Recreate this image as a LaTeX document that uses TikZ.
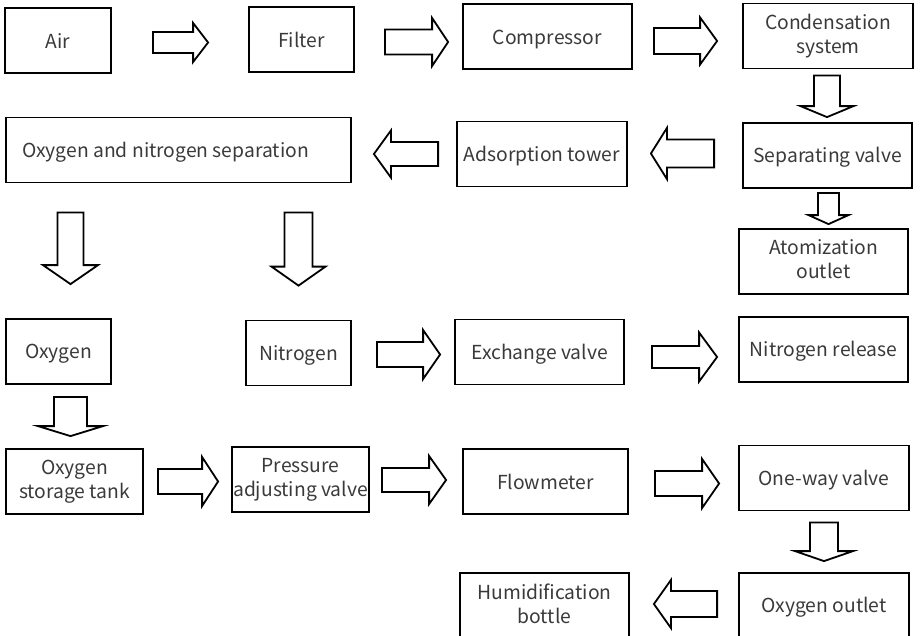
\documentclass[tikz,border=0pt]{standalone}
\usepackage{fontspec}
\setmainfont{Noto Sans CJK SC}
\usepackage{xcolor}
\usetikzlibrary{calc}
\definecolor{labelgray}{HTML}{3A3A3A}
\tikzset{every picture/.style={line width=1.8pt}}
\def\boxstrut{\rule[-4.5pt]{0pt}{24pt}}
\tikzstyle{process_box} =
  [ rectangle
  , draw=black
  , text=labelgray
  , align=center
  , inner sep=0pt
  , minimum height=65pt
  , font=\fontsize{19.3}{24}\selectfont
  , execute at begin node=\boxstrut
  , execute at end node=\boxstrut
  ]
% hollow block arrows: shaft half width, head half width, head length
\tikzset{
  right_arrow/.style n args={3}{to path={let \p1=(\tikztostart), \p2=(\tikztotarget) in
    (\x1,\y1+#1) -- (\x2-#3,\y1+#1) -- (\x2-#3,\y1+#2) -- (\x2,\y1)
    -- (\x2-#3,\y1-#2) -- (\x2-#3,\y1-#1) -- (\x1,\y1-#1) -- cycle}},
  left_arrow/.style n args={3}{to path={let \p1=(\tikztostart), \p2=(\tikztotarget) in
    (\x1,\y1+#1) -- (\x2+#3,\y1+#1) -- (\x2+#3,\y1+#2) -- (\x2,\y1)
    -- (\x2+#3,\y1-#2) -- (\x2+#3,\y1-#1) -- (\x1,\y1-#1) -- cycle}},
  down_arrow/.style n args={3}{to path={let \p1=(\tikztostart), \p2=(\tikztotarget) in
    (\x1-#1,\y1) -- (\x1-#1,\y2+#3) -- (\x1-#2,\y2+#3) -- (\x1,\y2)
    -- (\x1+#2,\y2+#3) -- (\x1+#1,\y2+#3) -- (\x1+#1,\y1) -- cycle}}
}
\def\Air{Air}
\def\Filter{Filter}
\def\Compressor{Compressor}
\def\CondensationSystem{Condensation\\system}
\def\Separation{\hspace*{-26pt}Oxygen and nitrogen separation}
\def\AdsorptionTower{Adsorption tower}
\def\SeparatingValve{Separating valve}
\def\AtomizationOutlet{Atomization\\outlet}
\def\OxygenGas{Oxygen}
\def\NitrogenGas{Nitrogen}
\def\ExchangeValve{Exchange valve}
\def\NitrogenRelease{Nitrogen release}
\def\StorageTank{Oxygen\\storage tank}
\def\PressureValve{Pressure\\adjusting valve}
\def\Flowmeter{Flowmeter}
\def\OneWayValve{One-way valve}
\def\HumidBottle{Humidification\\bottle}
\def\OxygenOutlet{Oxygen outlet}

\begin{document}
\begin{tikzpicture}[x=1pt,y=-1pt]
    \useasboundingbox (0,0) rectangle (920,635);

    \node[process_box, minimum width=106pt] (Air)                at ( 58,   40.5) {\Air};
    \node[process_box, minimum width=105pt] (Filter)             at (301.5, 39.5) {\Filter};
    \node[process_box, minimum width=169pt] (Compressor)         at (547.5, 36.5) {\Compressor};
    \node[process_box, minimum width=170pt] (Condensation)       at (828,   36)   {\CondensationSystem};
    \node[process_box, minimum width=345pt] (Separation)         at (178.5,150)   {\Separation};
    \node[process_box, minimum width=170pt] (Adsorption_Tower)   at (542,  154)   {\AdsorptionTower};
    \node[process_box, minimum width=169pt] (Separating_Valve)   at (827.5,155.5) {\SeparatingValve};
    \node[process_box, minimum width=169pt] (Atomization_Outlet) at (823.5,261.5) {\AtomizationOutlet};
    \node[process_box, minimum width=105pt] (Oxygen)             at ( 58.5,351.5) {\OxygenGas};
    \node[process_box, minimum width=105pt] (Nitrogen)           at (298.5,353)   {\NitrogenGas};
    \node[process_box, minimum width=169pt] (Exchange_Valve)     at (539.5,352)   {\ExchangeValve};
    \node[process_box, minimum width=169pt] (Nitrogen_Release)   at (823.5,349.5) {\NitrogenRelease};
    \node[process_box, minimum width=137pt] (Storage_Tank)       at ( 74.5,481.5) {\StorageTank};
    \node[process_box, minimum width=137pt] (Pressure_Valve)     at (300.5,479.5) {\PressureValve};
    \node[process_box, minimum width=165pt] (Flowmeter)          at (545.5,481.5) {\Flowmeter};
    \node[process_box, minimum width=170pt] (One_Way_Valve)      at (824,  478)   {\OneWayValve};
    \node[process_box, minimum width=169pt] (Humid_Bottle)       at (544.5,605.5) {\HumidBottle};
    \node[process_box, minimum width=170pt] (Oxygen_Outlet)      at (824,  605.5) {\OxygenOutlet};

    \draw[right_arrow={10.5pt}{19.5pt}{15pt}] ([shift={(41,2)}]Air.east)          to ([xshift=-40]Filter.west);
    \draw[right_arrow={12.5pt}{24pt}{16pt}]   ([shift={(30,2.5)}]Filter.east)     to ([xshift=-14]Compressor.west);
    \draw[right_arrow={13pt}{23.5pt}{17pt}]   ([shift={(21,4.5)}]Compressor.east) to ([xshift=-25]Condensation.west);
    \draw[down_arrow={13pt}{26.5pt}{11pt}]    ([shift={(-1,6)}]Condensation.south) to ([shift={(0,-5)}]Separating_Valve.north);

    \draw[left_arrow={14pt}{25.5pt}{16pt}]    ([shift={(-28,-2)}]Separating_Valve.west) to ([xshift=23]Adsorption_Tower.east);
    \draw[left_arrow={12pt}{23.5pt}{17pt}]    ([xshift=-18]Adsorption_Tower.west)       to ([xshift=22]Separation.east);
    \draw[down_arrow={10.5pt}{20pt}{9pt}]     ([shift={(1,4)}]Separating_Valve.south)   to ([shift={(0,-4)}]Atomization_Outlet.north);

    \draw[down_arrow={13pt}{27.5pt}{19pt}]    ($(Oxygen.north |- Separation.south)+(12,29)$)  to ($(Oxygen.north)+(12,-34)$);
    \draw[down_arrow={14pt}{27pt}{19pt}]      ($(Nitrogen.north |- Separation.south)+(0,29)$) to ($(Nitrogen.north)+(0,-34)$);

    \draw[right_arrow={12.5pt}{24.5pt}{17pt}] ([shift={(25,1.5)}]Nitrogen.east)    to ([xshift=-14]Exchange_Valve.west);
    \draw[right_arrow={11pt}{24.5pt}{18pt}]   ([shift={(27,5)}]Exchange_Valve.east) to ([xshift=-21]Nitrogen_Release.west);

    \draw[down_arrow={16.5pt}{32.5pt}{10pt}]  ([shift={(12,12)}]Oxygen.south)        to ([shift={(0,-12)}]Storage_Tank.north);
    \draw[right_arrow={12.5pt}{24.5pt}{16pt}] ([xshift=14]Storage_Tank.east)          to ([xshift=-13]Pressure_Valve.west);
    \draw[right_arrow={12pt}{24pt}{17pt}]     ([shift={(12,0.5)}]Pressure_Valve.east) to ([xshift=-16]Flowmeter.west);
    \draw[right_arrow={12.5pt}{24.5pt}{17pt}] ([shift={(26,2)}]Flowmeter.east)       to ([xshift=-19]One_Way_Valve.west);
    \draw[down_arrow={14pt}{29pt}{10pt}]      ([shift={(0,11)}]One_Way_Valve.south)   to ([shift={(0,-11)}]Oxygen_Outlet.north);
    \draw[left_arrow={13pt}{24pt}{17pt}]      ([shift={(-21,-1.5)}]Oxygen_Outlet.west) to ([xshift=24]Humid_Bottle.east);
  \end{tikzpicture}
\end{document}
